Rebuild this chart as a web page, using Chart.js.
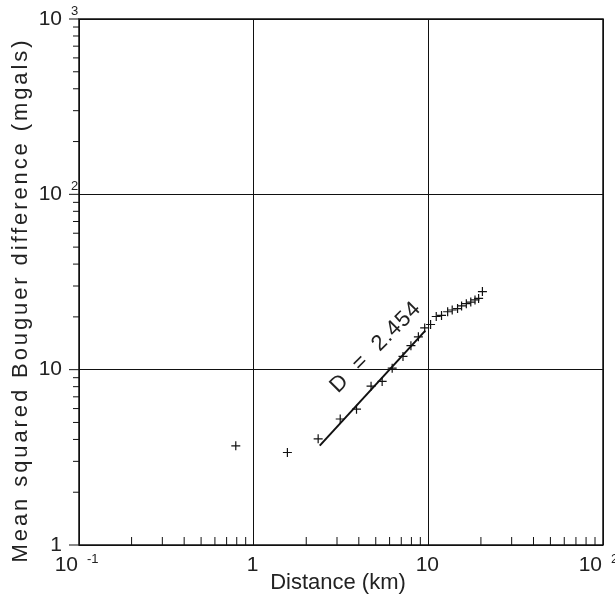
<!DOCTYPE html>
<html>
<head>
<meta charset="utf-8">
<title>Mean squared Bouguer difference vs distance</title>
<script src="https://cdn.jsdelivr.net/npm/chart.js@4/dist/chart.umd.min.js"></script>
<style>
    html, body { margin: 0; padding: 0; background: #fff; }
    #wrap { width: 615px; height: 597px; }
</style>
</head>
<body>
<div id="wrap"><canvas id="chart" width="615" height="597"></canvas></div>
<script>
// ========== DATA ==========
const DIST_KM = [0.79, 1.56, 2.34, 3.13, 3.88, 4.70, 5.44, 6.21, 7.16, 7.95, 8.77, 9.53,
                 10.3, 11.1, 11.9, 12.9, 13.7, 14.7, 15.5, 16.5, 17.5, 18.5, 19.4, 20.4];
const MSBD    = [3.68, 3.37, 4.03, 5.23, 5.95, 8.05, 8.57, 10.2, 11.9, 13.7, 15.4, 17.3,
                 18.1, 20.1, 20.4, 21.4, 21.9, 22.3, 23.1, 23.8, 24.3, 25.0, 25.5, 27.9];

// garis regresi
const FIT_X = [2.39, 9.61];
const FIT_Y = [3.69, 16.7];

// label sumbu
const X_TICKS = [0.1, 1, 10, 100];
const X_TICK_BASE = ['10', '1', '10', '10'];
const X_TICK_EXP  = ['-1', '', '', '2'];
const Y_TICKS = [1, 10, 100, 1000];
const Y_TICK_BASE = ['1', '10', '10', '10'];
const Y_TICK_EXP  = ['', '', '2', '3'];

const X_TITLE = 'Distance (km)';
const Y_TITLE = 'Mean squared Bouguer difference (mgals)';
const ANNOT_TEXT = 'D  =  2.454';
const ANNOT_AT = [5.0, 13.4];   // posisi tengah teks, dalam koordinat data

const INK = '#111';
const TEXT_INK = '#222';
const FONT = '"Liberation Sans", Arial, sans-serif';

const isDecade = v => v > 0 && Math.abs(Math.log10(v) - Math.round(Math.log10(v))) < 1e-6;

// ========== PLUGIN: bingkai, tick minor, label ==========
const axisDecor = {
    id: 'axisDecor',
    afterDraw(chart) {
        const { ctx, chartArea: a } = chart;
        const xs = chart.scales.x, ys = chart.scales.y;
        ctx.save();

        // bingkai
        ctx.strokeStyle = INK;
        ctx.lineWidth = 1.5;
        ctx.strokeRect(a.left, a.top, a.right - a.left, a.bottom - a.top);

        // tick minor: sumbu x ke dalam, sumbu y ke luar
        ctx.lineWidth = 1;
        ctx.beginPath();
        for (let e = -1; e < 2; e++) {
            for (let m = 2; m < 10; m++) {
                const px = xs.getPixelForValue(m * Math.pow(10, e));
                ctx.moveTo(px, a.bottom);
                ctx.lineTo(px, a.bottom - 8);
            }
        }
        for (let e = 0; e < 3; e++) {
            for (let m = 2; m < 10; m++) {
                const py = ys.getPixelForValue(m * Math.pow(10, e));
                ctx.moveTo(a.left, py);
                ctx.lineTo(a.left - 6, py);
            }
        }
        Y_TICKS.forEach(v => {
            const py = ys.getPixelForValue(v);
            ctx.moveTo(a.left, py);
            ctx.lineTo(a.left - 10, py);
        });
        ctx.stroke();

        ctx.fillStyle = TEXT_INK;

        // label sumbu x
        X_TICKS.forEach((v, i) => {
            const px = xs.getPixelForValue(v);
            const top = a.bottom + 10;
            ctx.font = '21px ' + FONT;
            ctx.textBaseline = 'top';
            if (X_TICK_EXP[i]) {
                ctx.textAlign = 'right';
                ctx.fillText(X_TICK_BASE[i], px - 1, top);
                ctx.font = '13px ' + FONT;
                ctx.textAlign = 'left';
                ctx.fillText(X_TICK_EXP[i], px + 8, top - 2);
            } else {
                ctx.textAlign = 'center';
                ctx.fillText(X_TICK_BASE[i], px - 1, top);
            }
        });

        // label sumbu y
        Y_TICKS.forEach((v, i) => {
            const py = ys.getPixelForValue(v);
            ctx.font = '21px ' + FONT;
            ctx.textBaseline = 'middle';
            ctx.textAlign = 'right';
            ctx.fillText(Y_TICK_BASE[i], a.left - 17, py);
            if (Y_TICK_EXP[i]) {
                ctx.font = '13px ' + FONT;
                ctx.textAlign = 'left';
                ctx.fillText(Y_TICK_EXP[i], a.left - 8, py - 8);
            }
        });

        // judul sumbu x
        ctx.font = '22px ' + FONT;
        ctx.textAlign = 'center';
        ctx.textBaseline = 'alphabetic';
        ctx.fillText(X_TITLE, 338, 589);

        // judul sumbu y
        ctx.save();
        ctx.translate(27, 300);
        ctx.rotate(-Math.PI / 2);
        ctx.letterSpacing = '2.9px';
        ctx.fillText(Y_TITLE, 0, 0);
        ctx.restore();

        // anotasi D
        ctx.save();
        ctx.translate(xs.getPixelForValue(ANNOT_AT[0]), ys.getPixelForValue(ANNOT_AT[1]));
        ctx.rotate(-45 * Math.PI / 180);
        ctx.font = '22px ' + FONT;
        ctx.letterSpacing = '1px';
        ctx.textBaseline = 'middle';
        ctx.fillText(ANNOT_TEXT, 0, 0);
        ctx.restore();

        ctx.restore();
    }
};

// ========== CHART ==========
const logAxis = (min, max) => ({
    type: 'logarithmic',
    min, max,
    afterBuildTicks: s => { s.ticks = s.ticks.filter(t => isDecade(t.value)); },
    ticks: { display: false },
    grid: { drawTicks: false, color: INK, lineWidth: 1 },
    border: { display: false }
});

new Chart(document.getElementById('chart'), {
    type: 'scatter',
    data: {
        datasets: [
            {
                label: 'data',
                data: DIST_KM.map((d, i) => ({ x: d, y: MSBD[i] })),
                pointStyle: 'cross',
                pointRadius: 4.5,
                pointBorderWidth: 1.2,
                borderColor: INK,
                backgroundColor: INK
            },
            {
                label: 'fit',
                data: FIT_X.map((d, i) => ({ x: d, y: FIT_Y[i] })),
                showLine: true,
                pointRadius: 0,
                borderWidth: 2,
                borderColor: INK
            }
        ]
    },
    options: {
        responsive: false,
        animation: false,
        layout: { padding: { left: 79, right: 12, top: 19, bottom: 52 } },
        plugins: { legend: { display: false }, tooltip: { enabled: false } },
        scales: {
            x: logAxis(0.1, 100),
            y: logAxis(1, 1000)
        }
    },
    plugins: [axisDecor]
});
</script>
</body>
</html>
